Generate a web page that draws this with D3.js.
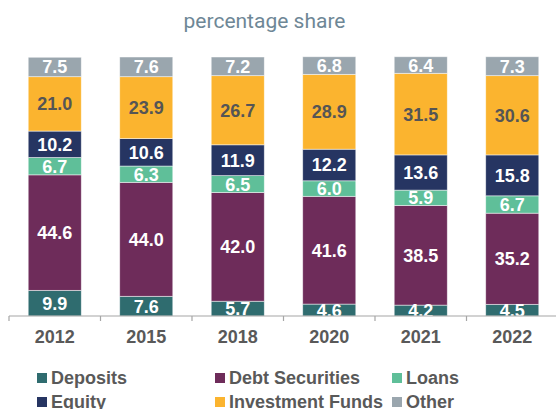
<!DOCTYPE html>
<html>
<head>
<meta charset="utf-8">
<script src="https://cdn.jsdelivr.net/npm/d3@7"></script>
<style>
  body { margin: 0; background: #fff; }
</style>
</head>
<body>
<script>
// data
const years = ['2012', '2015', '2018', '2020', '2021', '2022'];
const seriesNames = ['Deposits', 'Debt Securities', 'Loans', 'Equity', 'Investment Funds', 'Other'];
const deposits = [9.9, 7.6, 5.7, 4.6, 4.2, 4.5];
const debtSecurities = [44.6, 44.0, 42.0, 41.6, 38.5, 35.2];
const loans = [6.7, 6.3, 6.5, 6.0, 5.9, 6.7];
const equity = [10.2, 10.6, 11.9, 12.2, 13.6, 15.8];
const investmentFunds = [21.0, 23.9, 26.7, 28.9, 31.5, 30.6];
const other = [7.5, 7.6, 7.2, 6.8, 6.4, 7.3];
const colors = ['#2f6c6f', '#6e2c5a', '#5fbf99', '#263562', '#fbb42f', '#9aa6ae'];
const labelColors = ['#fff', '#fff', '#fff', '#fff', '#555', '#fff'];

const allSeries = [deposits, debtSecurities, loans, equity, investmentFunds, other];
const table = years.map((y, i) => {
  const row = {year: y};
  seriesNames.forEach((s, j) => row[s] = allSeries[j][i]);
  return row;
});

const width = 557, height = 409;
const svg = d3.select('body').append('svg')
  .attr('width', width).attr('height', height)
  .style('font-family', '"Liberation Sans", Arial, sans-serif');

svg.append('text')
  .attr('x', 264.5).attr('y', 28)
  .attr('text-anchor', 'middle')
  .style('font-family', 'Roboto, sans-serif')
  .style('font-size', '21px')
  .attr('fill', '#6e8796')
  .text('percentage share');

const x = d3.scaleBand().domain(years).range([9, 558]).paddingInner(0.42).paddingOuter(0.21);
const y = d3.scaleLinear().domain([0, 100]).range([316, 57]);

const stack = d3.stack().keys(seriesNames);
const stacked = stack(table);

svg.append('clipPath').attr('id', 'plot')
  .append('rect').attr('x', 0).attr('y', 0).attr('width', width).attr('height', 316);

const layers = svg.append('g').selectAll('g')
  .data(stacked).join('g')
  .attr('fill', (d, i) => colors[i]);

layers.selectAll('rect')
  .data(d => d).join('rect')
  .attr('x', d => x(d.data.year))
  .attr('width', x.bandwidth())
  .attr('y', d => y(d[1]))
  .attr('height', d => y(d[0]) - y(d[1]))
  .attr('stroke', 'rgba(255,255,255,0.6)')
  .attr('stroke-width', 0.8);

const labels = svg.append('g').attr('clip-path', 'url(#plot)');
stacked.forEach((layer, i) => {
  labels.selectAll(null)
    .data(layer).join('text')
    .attr('x', d => x(d.data.year) + x.bandwidth() / 2)
    .attr('y', d => (y(d[0]) + y(d[1])) / 2)
    .attr('dy', '0.36em')
    .attr('text-anchor', 'middle')
    .style('font-size', '18px')
    .style('font-weight', 'bold')
    .attr('fill', labelColors[i])
    .text(d => d.data[layer.key].toFixed(1));
});

// axis
const axisG = svg.append('g');
axisG.append('line')
  .attr('x1', 9).attr('x2', 556).attr('y1', 316).attr('y2', 316)
  .attr('stroke', '#a6a6a6').attr('stroke-width', 1.2);
const step = x.step();
const tickXs = d3.range(years.length).map(i => x(years[i]) - x.paddingOuter() * step);
axisG.selectAll('.tk').data(tickXs).join('line')
  .attr('x1', d => d).attr('x2', d => d)
  .attr('y1', 316).attr('y2', 321)
  .attr('stroke', '#a6a6a6').attr('stroke-width', 1.2);
axisG.selectAll('.yr').data(years).join('text')
  .attr('x', d => x(d) + x.bandwidth() / 2)
  .attr('y', 343)
  .attr('text-anchor', 'middle')
  .style('font-size', '18px')
  .style('font-weight', 'bold')
  .attr('fill', '#595959')
  .text(d => d);

// legend
const legCols = [37, 215, 392];
const legRows = [378, 402];
const legend = svg.append('g').selectAll('g')
  .data(seriesNames).join('g')
  .attr('transform', (d, i) => `translate(${legCols[i % 3]},${legRows[Math.floor(i / 3)]})`);
legend.append('rect')
  .attr('x', 0).attr('y', -5).attr('width', 10).attr('height', 10)
  .attr('fill', (d, i) => colors[i]);
legend.append('text')
  .attr('x', 14).attr('dy', '0.36em')
  .style('font-size', '18px')
  .style('font-weight', 'bold')
  .attr('fill', '#595959')
  .text(d => d);
</script>
</body>
</html>
